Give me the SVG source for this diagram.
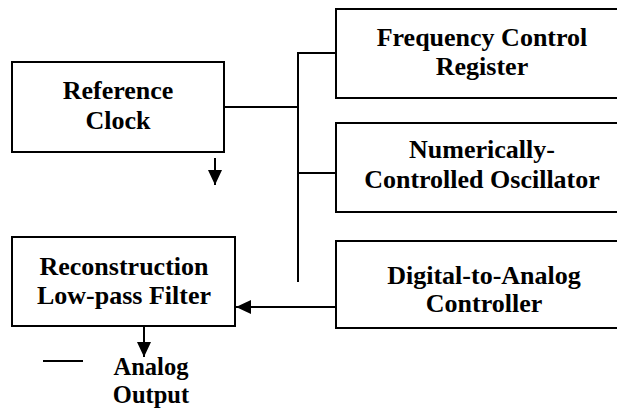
<svg xmlns="http://www.w3.org/2000/svg" width="617" height="408" viewBox="0 0 617 408">
<style>
.box{fill:#fff;stroke:#000;stroke-width:2}
.t{font-family:"Liberation Serif","Times New Roman",serif;font-weight:bold;font-size:26px;text-anchor:middle;fill:#000}
.s{font-size:24.5px}
.ln{fill:none;stroke:#000;stroke-width:2}
</style>
<defs>
<marker id="ah" viewBox="0 0 15 14" refX="15" refY="7" markerWidth="15" markerHeight="14" markerUnits="userSpaceOnUse" orient="auto">
<path d="M0,0 L15,7 L0,14 Z" fill="#000"/>
</marker>
</defs>
<rect width="617" height="408" fill="#fff"/>
<g id="connectors">
<path class="ln" d="M224,107 H298"/>
<path class="ln" d="M298,53 V282"/>
<path class="ln" d="M297,53 H336"/>
<path class="ln" d="M297,173 H336"/>
<path class="ln" d="M336,307 H236" marker-end="url(#ah)"/>
<path class="ln" d="M215,158 V185" marker-end="url(#ah)"/>
<path class="ln" d="M144,326 V357" marker-end="url(#ah)"/>
<path class="ln" d="M43,361 H83"/>
</g>
<g id="reference-clock">
<rect class="box" x="12" y="62" width="212" height="90"/>
<text class="t" x="118" y="99">Reference</text>
<text class="t" x="118" y="129">Clock</text>
</g>
<g id="frequency-control-register">
<rect class="box" x="336" y="9" width="300" height="89"/>
<text class="t" x="482" y="46">Frequency Control</text>
<text class="t" x="482" y="75">Register</text>
</g>
<g id="nco">
<rect class="box" x="336" y="123" width="300" height="89"/>
<text class="t" x="482" y="158">Numerically-</text>
<text class="t" x="482" y="188">Controlled Oscillator</text>
</g>
<g id="dac">
<rect class="box" x="336" y="241" width="300" height="87"/>
<text class="t" x="484" y="284">Digital-to-Analog</text>
<text class="t" x="484" y="312">Controller</text>
</g>
<g id="reconstruction-filter">
<rect class="box" x="12" y="237" width="223" height="89"/>
<text class="t" x="124" y="275">Reconstruction</text>
<text class="t" x="124" y="304">Low-pass Filter</text>
</g>
<g id="analog-output">
<text class="t s" x="151" y="375">Analog</text>
<text class="t s" x="151" y="402.5">Output</text>
</g>
</svg>
